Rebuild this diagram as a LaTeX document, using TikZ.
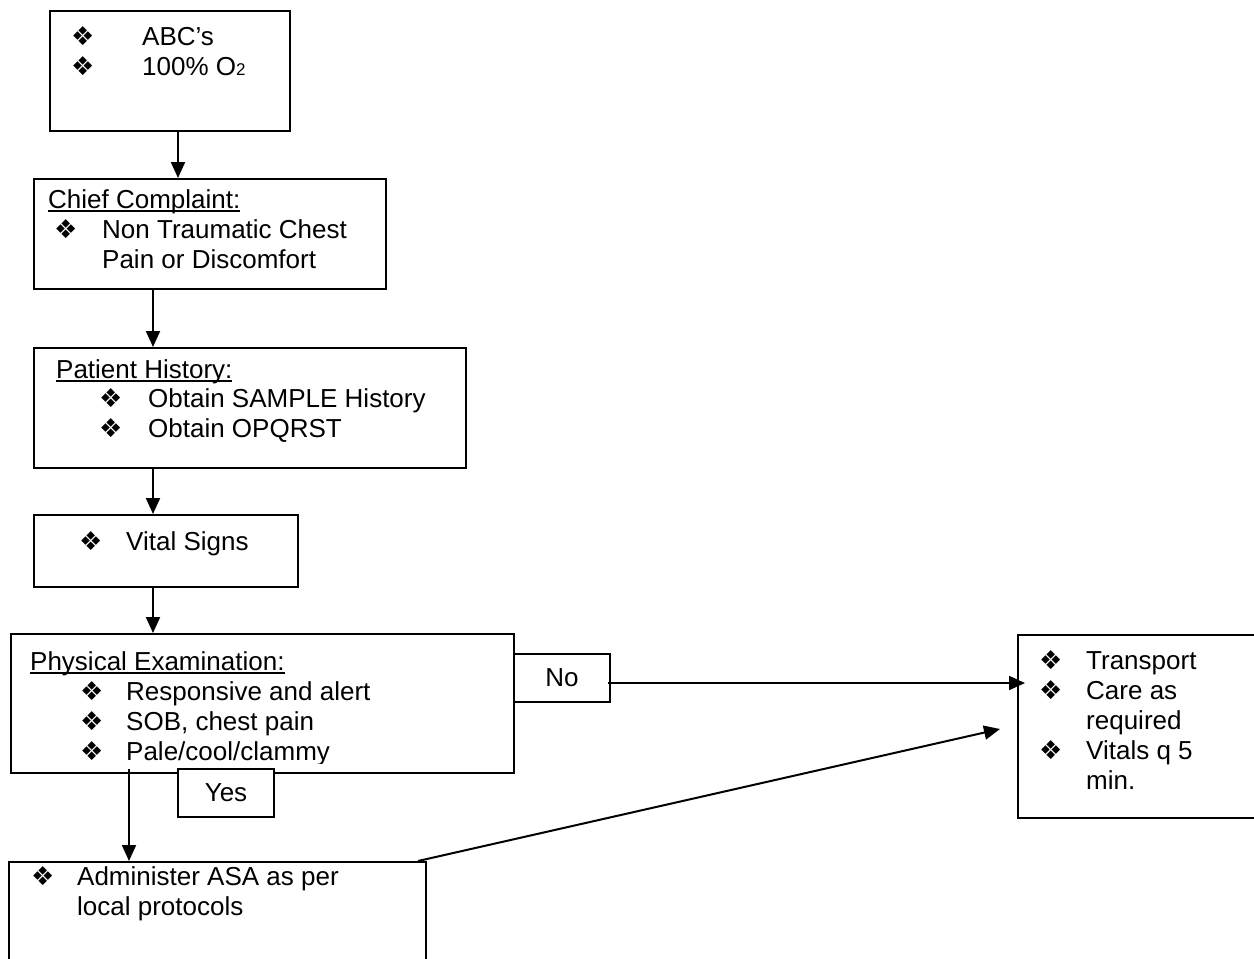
\documentclass[tikz,border=0pt]{standalone}
\usepackage{fontspec}
\setmainfont{Liberation Sans}
\newfontfamily\symfont{DejaVu Sans}
\usetikzlibrary{arrows.meta}
\newcommand\bul{{\symfont\fontsize{26}{26}\selectfont ❖}}
\newcommand\hd[1]{\setbox0\hbox{#1}\rlap{\rule[-3.5pt]{\wd0}{1.5pt}}\box0}
\tikzset{
  box/.style={draw, line width=2pt, inner sep=0pt, anchor=north west},
  txt/.style={anchor=base west, inner sep=0pt, font=\fontsize{26}{30}\selectfont},
  bl/.style={anchor=base west, inner sep=0pt},
  lbl/.style={inner sep=0pt, font=\fontsize{26}{30}\selectfont},
  arr/.style={line width=2pt, -{Triangle[length=16pt,width=14pt]}},
}
\begin{document}
\begin{tikzpicture}[x=1pt,y=-1pt]
\useasboundingbox (0,0) rectangle (1254,959);
\fill[white] (0,0) rectangle (1254,959);
% boxes
\node[box, minimum width=240pt, minimum height=120pt] (top) at (49,10) {};
\node[box, minimum width=352pt, minimum height=110pt] (chief) at (33,178) {};
\node[box, minimum width=432pt, minimum height=120pt] (hist) at (33,347) {};
\node[box, minimum width=264pt, minimum height=72pt] (vital) at (33,514) {};
\node[box, minimum width=503pt, minimum height=139pt] (phys) at (10,633) {};
\node[box, minimum width=96pt, minimum height=48pt] (no) at (513,653) {};
\node[box, fill=white, minimum width=96pt, minimum height=48pt] (yes) at (177,768) {};
\node[box, minimum width=417pt, minimum height=130pt] (asa) at (8,861) {};
\node[box, minimum width=260pt, minimum height=183pt] (tr) at (1017,634) {};
% labels in small boxes
\node[lbl] (nolbl) at (no.center) {No};
\node[lbl] (yeslbl) at (yes.center) {Yes};
% top box
\node[bl] (tb1) at (71,45) {\bul};
\node[txt] (tt1) at (142,45) {ABC’s};
\node[bl] (tb2) at (71,75) {\bul};
\node[txt] (tt2) at (142,75) {100\% O{\fontsize{17}{17}\selectfont 2}};
% chief complaint
\node[txt] (ch0) at (48,208) {\hd{Chief Complaint:}};
\node[bl] (cb1) at (54,238) {\bul};
\node[txt] (ct1) at (102,238) {Non Traumatic Chest};
\node[txt] (ct2) at (102,268) {Pain or Discomfort};
% patient history
\node[txt] (ph0) at (56,378) {\hd{Patient History:}};
\node[bl] (pb1) at (99,407) {\bul};
\node[txt] (pt1) at (148,407) {Obtain SAMPLE History};
\node[bl] (pb2) at (99,437) {\bul};
\node[txt] (pt2) at (148,437) {Obtain OPQRST};
% vital signs
\node[bl] (vb1) at (79,550) {\bul};
\node[txt] (vt1) at (126,550) {Vital Signs};
% physical examination
\begin{scope}
\clip (10,633) rectangle (513,763);
\node[txt] (xh0) at (30,670) {\hd{Physical Examination:}};
\node[bl] (xb1) at (80,700) {\bul};
\node[txt] (xt1) at (126,700) {Responsive and alert};
\node[bl] (xb2) at (80,730) {\bul};
\node[txt] (xt2) at (126,730) {SOB, chest pain};
\node[bl] (xb3) at (80,760) {\bul};
\node[txt] (xt3) at (126,760) {Pale/cool/clammy};
\end{scope}
% transport
\node[bl] (rb1) at (1039,669) {\bul};
\node[txt] (rt1) at (1086,669) {Transport};
\node[bl] (rb2) at (1039,699) {\bul};
\node[txt] (rt2) at (1086,699) {Care as};
\node[txt] (rt3) at (1086,729) {required};
\node[bl] (rb3) at (1039,759) {\bul};
\node[txt] (rt4) at (1086,759) {Vitals q 5};
\node[txt] (rt5) at (1086,789) {min.};
% ASA
\node[bl] (ab1) at (31,885) {\bul};
\node[txt] (at1) at (77,885) {Administer ASA as per};
\node[txt] (at2) at (77,915) {local protocols};
% connectors
\draw[arr] ([xshift=8pt]top.south) -- ([xshift=8pt]top.south |- chief.north);
\draw[arr] ([xshift=120pt]chief.south west) -- ([xshift=120pt]chief.south west |- hist.north);
\draw[arr] ([xshift=120pt]hist.south west) -- ([xshift=120pt]hist.south west |- vital.north);
\draw[arr] ([xshift=120pt]vital.south west) -- ([xshift=120pt]vital.south west |- phys.north);
\coordinate (pstart) at ([xshift=119pt,yshift=5pt]phys.south west);
\draw[arr] (pstart) -- (pstart |- asa.north);
\coordinate (nstart) at ([xshift=-3pt,yshift=-5pt]no.east);
\draw[arr] (nstart) -- ([xshift=8pt]tr.west |- nstart);
\coordinate (aend) at ([xshift=-17pt,yshift=-2.5pt]tr.west);
\draw[arr] ([xshift=-9pt]asa.north east) -- (aend);
\end{tikzpicture}
\end{document}
